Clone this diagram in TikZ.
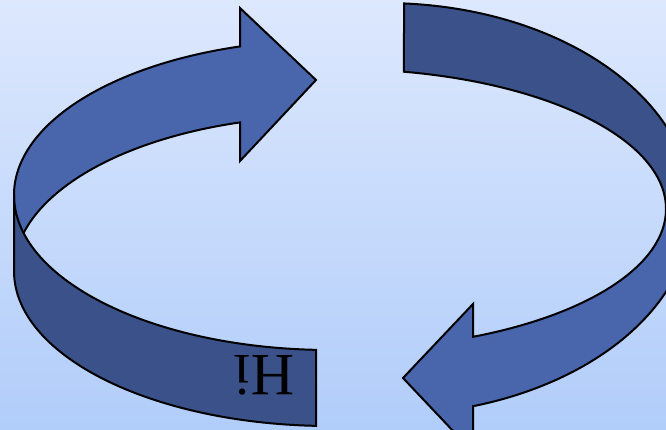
\documentclass[tikz,border=0pt]{standalone}
\usepackage{fontspec}
\setmainfont{Liberation Serif}
\definecolor{bgtop}{RGB}{221,232,253}
\definecolor{bgbot}{RGB}{177,205,250}
\definecolor{bandlight}{RGB}{73,102,172}
\definecolor{banddark}{RGB}{58,82,137}
\tikzset{
  ribbon/.style={draw=black, line width=2pt, line join=miter},
  lightpart/.style={ribbon, fill=bandlight},
  darkpart/.style={ribbon, fill=banddark}
}
\begin{document}
\begin{tikzpicture}[x=1pt,y=1pt]
\useasboundingbox (0,0) rectangle (666,-429);
\shade[top color=bgtop, bottom color=bgbot] (0,0) rectangle (666,-429);
\begin{scope}
\clip (0,0) rectangle (666,-429);
% left light arrow (back)
\path[lightpart] (14,-195) arc[start angle=180, end angle=106.55, x radius=316, y radius=155]
  -- (240,-8) -- (316,-80) -- (240,-161) -- (240,-122.4)
  arc[start angle=106.55, end angle=180, x radius=316, y radius=155] -- cycle;
% left dark band (front)
\path[darkpart] (14,-195) arc[start angle=180, end angle=267.46, x radius=316, y radius=155]
  -- (316,-425.85)
  arc[start angle=267.46, end angle=180, x radius=316, y radius=155] -- cycle;
% right dark band (top)
\path[darkpart] (404,-3.43) arc[start angle=86.28, end angle=0, x radius=308, y radius=206]
  -- (666,-209)
  arc[start angle=0, end angle=78.68, x radius=326, y radius=140] -- cycle;
% right light arrow (bottom)
\path[lightpart] (692,-209) arc[start angle=0, end angle=-73.2, x radius=308, y radius=206]
  -- (473,-452) -- (403,-378) -- (473,-304) -- (473,-336.8)
  arc[start angle=-65.92, end angle=0, x radius=326, y radius=140] -- cycle;
\end{scope}
\node[rotate=180, anchor=base, inner sep=0pt, font=\fontsize{60}{60}\selectfont] (hi) at (264,-355) {Hi};
\end{tikzpicture}
\end{document}
